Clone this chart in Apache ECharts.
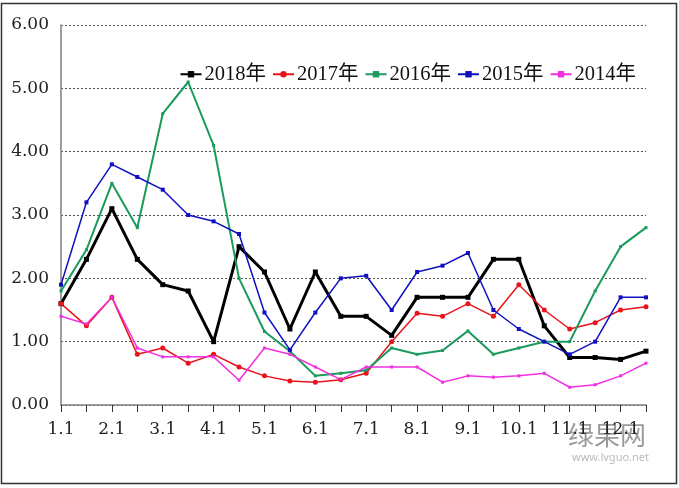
<!DOCTYPE html>
<html><head><meta charset="utf-8">
<script src="https://cdn.jsdelivr.net/npm/echarts@6/dist/echarts.min.js"></script>
<style>html,body{margin:0;padding:0;background:#fff}#c{width:679px;height:488px}</style>
</head><body><div id="c"></div>
<script>
const categories = ['1.1','1.15','2.1','2.15','3.1','3.15','4.1','4.15','5.1','5.15','6.1','6.15','7.1','7.15','8.1','8.15','9.1','9.15','10.1','10.15','11.1','11.15','12.1','12.15'];
const s2018 = [1.6,2.3,3.1,2.3,1.9,1.8,1.0,2.5,2.1,1.2,2.1,1.4,1.4,1.1,1.7,1.7,1.7,2.3,2.3,1.25,0.75,0.75,0.72,0.85];
const s2017 = [1.6,1.25,1.7,0.8,0.9,0.66,0.8,0.6,0.46,0.38,0.36,0.4,0.5,1.0,1.45,1.4,1.6,1.4,1.9,1.5,1.2,1.3,1.5,1.55];
const s2016 = [1.8,2.45,3.5,2.8,4.6,5.1,4.1,2.0,1.16,0.85,0.46,0.5,0.55,0.9,0.8,0.86,1.17,0.8,0.9,1.0,1.0,1.8,2.5,2.8];
const s2015 = [1.9,3.2,3.8,3.6,3.4,3.0,2.9,2.7,1.46,0.87,1.46,2.0,2.04,1.5,2.1,2.2,2.4,1.5,1.2,1.0,0.8,1.0,1.7,1.7];
const s2014 = [1.4,1.28,1.7,0.9,0.76,0.76,0.76,0.39,0.9,0.8,0.6,0.4,0.6,0.6,0.6,0.36,0.46,0.44,0.46,0.5,0.28,0.32,0.46,0.66];
const seriesNames = ['2018年','2017年','2016年','2015年','2014年'];
const yTicks = {min:0, max:6, interval:1};

const FONT = '"DejaVu Serif","Noto Sans CJK SC",serif';
const LFONT = '"Liberation Serif","Noto Sans CJK SC",serif';
const chart = echarts.init(document.getElementById('c'));
function mk(name, data, color, width, symbol, size){
  return {name, type:'line', data, color, symbol, symbolSize:size, showSymbol:true,
    lineStyle:{width, color}, itemStyle:{color}, animation:false};
}
chart.setOption({
  animation:false,
  backgroundColor:'#fff',
  grid:{left:61, right:33, top:25, bottom:83, containLabel:false},
  legend:{
    top:59, right:38, itemWidth:21, itemHeight:8, itemGap:6,
    textStyle:{fontFamily:LFONT, fontSize:20.5, color:'#111', padding:[0,0,0,-2]},
    data:seriesNames
  },
  xAxis:{
    type:'category', data:categories, boundaryGap:false,
    axisLine:{lineStyle:{color:'#808080', width:1.5}},
    axisTick:{show:true, interval:0, length:7, lineStyle:{color:'#333'}, inside:false},
    axisLabel:{interval:1, margin:16, fontFamily:FONT, fontSize:17, color:'#222'},
    splitLine:{show:false}
  },
  yAxis:{
    type:'value', min:yTicks.min, max:yTicks.max, interval:yTicks.interval,
    axisLine:{show:true, lineStyle:{color:'#808080', width:1.5}},
    axisTick:{show:false},
    axisLabel:{margin:12, fontFamily:FONT, fontSize:17, color:'#222', formatter:v=>v.toFixed(2)},
    splitLine:{show:true, lineStyle:{color:'#555', type:[2,2], width:1}}
  },
  graphic:[
    {type:'rect', shape:{x:1.5, y:3.5, width:675, height:480}, style:{fill:'none', stroke:'#333', lineWidth:1.5}, silent:true, z:-1},
    {type:'text', left:568, top:422, style:{text:'绿果网', fontSize:26, fontFamily:'"Noto Sans CJK SC"', fill:'rgba(120,120,120,0.75)'}, silent:true},
    {type:'text', left:572, top:452, style:{text:'www.lvguo.net', fontSize:11, fontFamily:'"Noto Sans"', fill:'rgba(140,140,140,0.6)'}, silent:true}
  ],
  series:[
    mk('2018年', s2018, '#000000', 3, 'rect', 5),
    mk('2017年', s2017, '#e8141c', 1.5, 'circle', 5),
    mk('2016年', s2016, '#1a9a5c', 2, 'rect', 3),
    mk('2015年', s2015, '#1010c0', 1.5, 'rect', 4),
    mk('2014年', s2014, '#f030e0', 1.5, 'rect', 3)
  ]
});
</script></body></html>
